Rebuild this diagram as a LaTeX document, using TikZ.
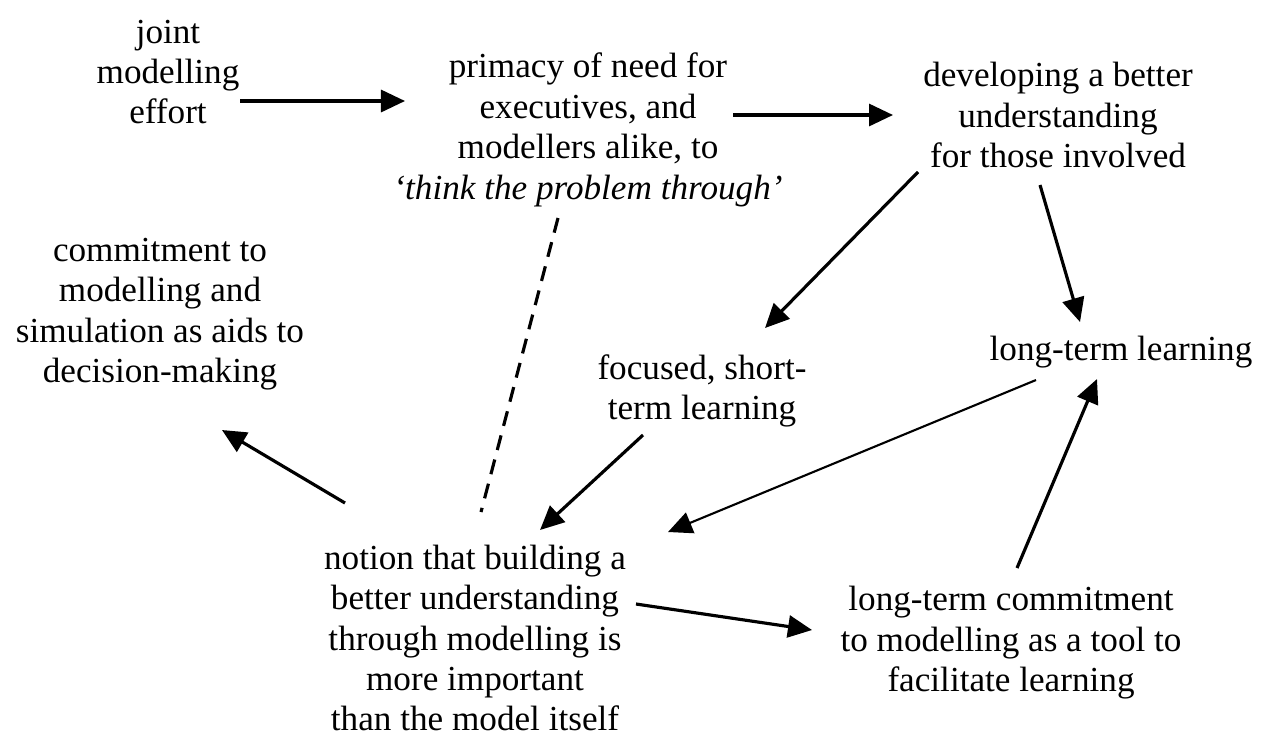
\documentclass[tikz,border=0pt]{standalone}
\usepackage{fontspec}
\setmainfont{Liberation Serif}
\usetikzlibrary{arrows.meta, calc}

\begin{document}
\begin{tikzpicture}[x=0.01cm, y=-0.01cm,
    idea/.style={align=center, inner sep=0pt, font=\fontsize{10}{11.5}\selectfont},
    arr/.style={-{Triangle[length=0.24cm, width=0.22cm]}, line width=0.9pt},
    link/.style={dash pattern=on 4.3pt off 2.8pt, line width=0.9pt}
  ]
    \useasboundingbox (0,0) rectangle (1271,754);

    % Top row
    \node[idea] (joint) at (168,72) {joint\\modelling\\effort};
    \node[idea] (primacy) at (588,130)
      {primacy of need for\\executives, and\\modellers alike, to\\
       \textit{`think the problem through'}};
    \node[idea] (develop) at (1058,115)
      {developing a better\\understanding\\for those involved};

    % Middle
    \node[idea] (aids) at (160,314)
      {commitment to\\modelling and\\simulation as aids to\\decision-making};
    \node[idea] (short) at (702,391) {focused, short-\\term learning};
    \node[idea] (long) at (1121,352) {long-term learning};

    % Bottom row
    \node[idea] (notion) at (475,638)
      {notion that building a\\better understanding\\through modelling is\\
       more important\\than the model itself};
    \node[idea] (tool) at (1011,643)
      {long-term commitment\\to modelling as a tool to\\facilitate learning};

    \draw[arr] ($(joint)+(72,29)$) -- ($(primacy)+(-183,-29)$);
    \draw[arr] ($(primacy)+(145,-15)$) -- ($(develop)+(-165,0)$);
    \draw[arr] ($(develop)+(-140,57)$) -- ($(short)+(63,-63)$);
    \draw[arr] ($(develop)+(-18,70)$) -- ($(long)+(-41,-30)$);
    \draw[arr, line width=0.6pt] ($(long)+(-85,28)$) -- ($(notion)+(193,-106)$);
    \draw[arr] ($(short)+(-59,44)$) -- ($(notion)+(65,-108)$);
    \draw[arr] ($(notion)+(-130,-135)$) -- ($(aids)+(62,116)$);
    \draw[arr] ($(notion)+(161,-34)$) -- ($(tool)+(-199,-13)$);
    \draw[arr] ($(tool)+(6,-75)$) -- ($(long)+(-24,27)$);

    % Dashed link
    \draw[link] ($(primacy)+(-30,88)$) -- ($(notion)+(6,-126)$);
  \end{tikzpicture}
\end{document}
